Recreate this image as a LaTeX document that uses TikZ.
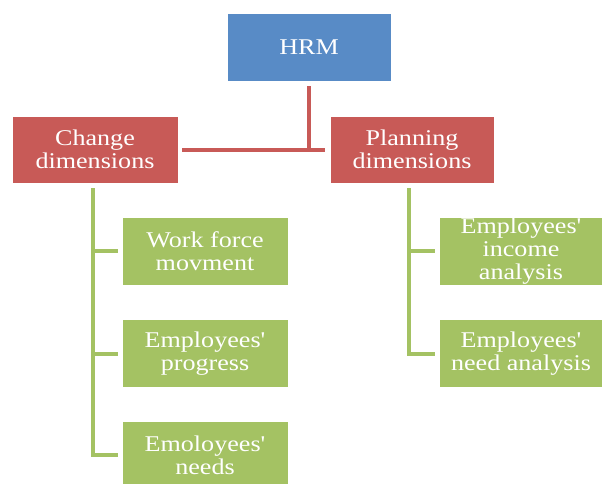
\documentclass[tikz,border=0pt]{standalone}
\usepackage{fontspec}
\setmainfont{Liberation Serif}[FakeStretch=1.16, Ligatures=TeXOff]
\definecolor{hrmblue}{HTML}{588BC6}
\definecolor{dimred}{HTML}{C85A57}
\definecolor{subgreen}{HTML}{A4C263}
\begin{document}
\begin{tikzpicture}[x=1pt,y=-1pt,
  box/.style={inner sep=0pt, align=center, text=white, draw=white, line width=0.6pt,
    font=\fontsize{22.5}{23}\selectfont},
  bluebox/.style={box, fill=hrmblue, minimum width=164pt, minimum height=68pt},
  redbox/.style={box, fill=dimred, minimum width=166pt, minimum height=67pt},
  greenbox/.style={box, fill=subgreen, minimum width=166pt, minimum height=68pt},
  redline/.style={draw=dimred, line width=4pt},
  greenline/.style={draw=subgreen, line width=4pt}]
\useasboundingbox (0,0) rectangle (602,483);
\clip (0,0) rectangle (602,483);
\node[bluebox] (hrm) at (309,47) {HRM};
\node[redbox] (chg) at (95,149.5) {Change\\dimensions};
\node[redbox, minimum width=164pt] (pln) at (412,149.5) {Planning\\dimensions};
\node[greenbox] (g1) at (205,251) {Work force\\movment};
\node[greenbox] (g2) at (205,353.5) {Employees'\\progress};
\node[greenbox] (g3) at (205,455) {Emoloyees'\\needs};
\node[greenbox, minimum width=164pt] (h1) at (521,251) {Employees'\\income\\analysis};
\node[greenbox, minimum width=164pt] (h2) at (521,353.5) {Employees'\\need analysis};
% red connectors
\coordinate (j) at (hrm.south |- chg.east);
\draw[redline] ([yshift=-5pt]hrm.south) -- ([yshift=-2pt]j);
\draw[redline] ([xshift=4pt]chg.east) -- ([xshift=-5pt]pln.west);
% green connectors left
\coordinate (lt) at ([xshift=-2pt,yshift=-5pt]chg.south);
\draw[greenline] (lt) |- ([xshift=-4pt]g3.west);
\draw[greenline] (lt |- g1.west) -- ([xshift=-4pt]g1.west);
\draw[greenline] (lt |- g2.west) -- ([xshift=-4pt]g2.west);
% green connectors right
\coordinate (rt) at ([xshift=-3pt,yshift=-5pt]pln.south);
\draw[greenline] (rt) |- ([xshift=-4pt]h2.west);
\draw[greenline] (rt |- h1.west) -- ([xshift=-4pt]h1.west);
\end{tikzpicture}
\end{document}
